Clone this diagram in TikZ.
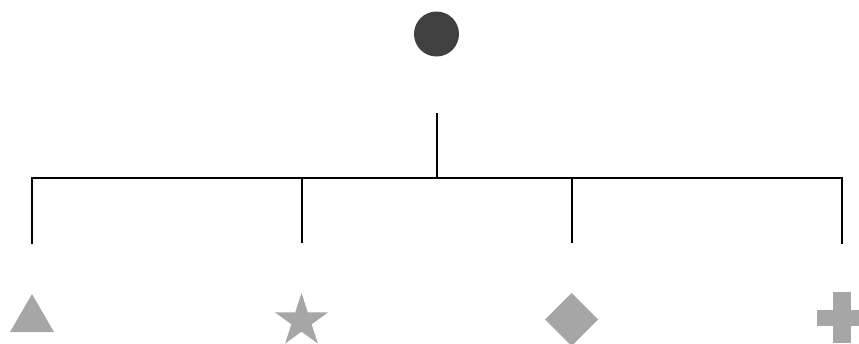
\documentclass[tikz,border=0pt]{standalone}
\usetikzlibrary{shapes.geometric}
\definecolor{darkdot}{HTML}{404040}
\definecolor{shapegray}{HTML}{A6A6A6}
\begin{document}
\begin{tikzpicture}[x=1pt,y=-1pt,
  link/.style={line width=2pt,black},
  leaf/.style={fill=shapegray,draw=none,inner sep=0pt,outer sep=0pt}]
\useasboundingbox (0,0) rectangle (859,343);
% root
\node[circle,fill=darkdot,minimum size=45pt,inner sep=0pt] (root) at (436.5,34) {};
% junctions
\coordinate (stemtop) at (436.5,113);
\coordinate (stembot) at (436.5,177.5);
\coordinate (b1) at (32,177.5);
\coordinate (b2) at (301.5,177.5);
\coordinate (b3) at (571.5,177.5);
\coordinate (b4) at (842,177.5);
\coordinate (e1) at (32,243);
\coordinate (e2) at (301.5,243);
\coordinate (e3) at (571.5,243);
\coordinate (e4) at (842,243);
% leaves
\node[leaf,regular polygon,regular polygon sides=3,minimum size=50.8pt] (tri) at (32,319.4) {};
\node[leaf,star,star points=5,star point ratio=2.618,minimum size=55.8pt] (st) at (301.5,321) {};
\node[leaf,diamond,minimum width=53pt,minimum height=53pt] (dia) at (571.5,319.5) {};
\node[inner sep=0pt,minimum size=50pt] (plus) at (842,317.5) {};
\fill[shapegray] ([xshift=-9pt]plus.north) rectangle ([xshift=9pt]plus.south);
\fill[shapegray] ([yshift=-8pt]plus.west) rectangle ([yshift=8pt]plus.east);
% connectors
\draw[link] (stemtop) -- (stembot);
\draw[link,line cap=rect] (e1) -- (b1) -- (b4) -- (e4);
\draw[link] (b2) -- (e2);
\draw[link] (b3) -- (e3);
\end{tikzpicture}
\end{document}
